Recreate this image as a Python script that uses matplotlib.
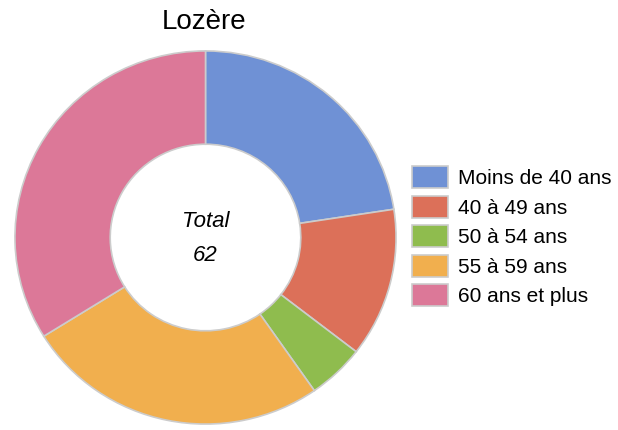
import matplotlib
matplotlib.use('Agg')
import matplotlib.pyplot as plt

plt.rcParams['font.family'] = ['Liberation Sans', 'DejaVu Sans']

title = 'Lozère'
labels = ['Moins de 40 ans', '40 à 49 ans', '50 à 54 ans', '55 à 59 ans', '60 ans et plus']
values = [14, 8, 3, 16, 21]
colors = ['#6F91D5', '#DC7059', '#8FBC4E', '#F1AF4E', '#DC7898']

fig = plt.figure(figsize=(6.18, 4.30), dpi=100)
# donut is slightly wider than tall in the reference
ax = fig.add_axes([14 / 618, 5 / 430, 383 / 618, 375 / 430])

wedges, _ = ax.pie(values, colors=colors, startangle=90, counterclock=False,
                   radius=1.0,
                   wedgeprops=dict(width=0.5, edgecolor='#cccccc', linewidth=1.2))
ax.set_aspect('auto')
ax.set_xlim(-1.005, 1.005)
ax.set_ylim(-1.005, 1.005)

ax.text(0, 0.085, 'Total', ha='center', va='center', fontsize=16, style='italic')
ax.text(0, -0.095, str(sum(values)), ha='center', va='center', fontsize=16, style='italic')

fig.text(204 / 618, 1 - 22 / 430, title, ha='center', va='center', fontsize=20)

leg = fig.legend(wedges, labels, loc='upper left', bbox_to_anchor=(412 / 618, 1 - 166 / 430),
                 frameon=False, fontsize=15, handlelength=1.73, handleheight=1.25,
                 handletextpad=0.5, labelspacing=0.36, borderpad=0, borderaxespad=0)

plt.savefig('out.png', dpi=100)
